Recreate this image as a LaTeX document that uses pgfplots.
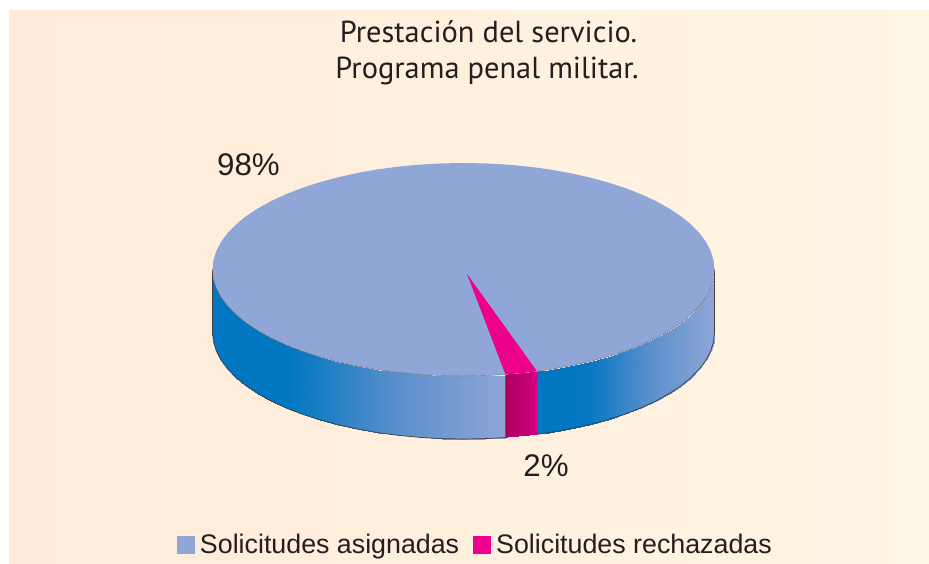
\documentclass[border=0pt]{standalone}
\usepackage{pgfplots}
\usepackage{fontspec}
\pgfplotsset{compat=1.18}
\setmainfont{Liberation Sans}
\newfontfamily\titlefont{PT Sans}
\definecolor{cblue}{RGB}{143,166,214}
\definecolor{cpink}{RGB}{236,0,140}
\definecolor{ink}{RGB}{35,31,32}
\pgfplotsset{
 colormap={bgcm}{rgb255=(255,235,217) rgb255=(255,245,228)},
 colormap={sidecm}{rgb255=(0,119,192) rgb255=(91,143,204) rgb255=(143,166,214)},
 colormap={pinkcm}{rgb255=(168,0,96) rgb255=(214,0,127)},
}
\begin{document}
\begin{tikzpicture}
\begin{axis}[
 scale only axis, width=929pt, height=563pt,
 xmin=0, xmax=929, ymin=0, ymax=563, y dir=reverse,
 hide axis, clip=false,
 point meta min=0, point meta max=1,
 legend cell align=left,
 legend columns=2,
 legend style={draw=none, fill=none, at={(axis description cs:0.1905,0.0320)}, anchor=west,
   font=\fontsize{26.8}{30}\selectfont, text=ink, inner sep=0pt, outer sep=0pt,
   /tikz/every even column/.append style={column sep=11pt},
   nodes={inner xsep=3pt, inner ysep=0pt}},
]
% page
\addplot[fill=white, draw=none, forget plot] coordinates {(0,0)(929,0)(929,563)(0,563)(0,0)};
% background
\addplot[surf, shader=interp, colormap name=bgcm, mesh/rows=2, point meta=explicit, forget plot]
 table[x=x,y=y,meta=t] {
x y t
9 10 0
929 10 1
9 563 0
929 563 1
};
% side, left of the slice
\addplot[surf, shader=interp, colormap name=sidecm, mesh/rows=2, point meta=explicit, forget plot]
 table[x=x,y=y,meta=t] {
x y t
212.5 269.5 0
213.5 278.8 0
216.3 288.0 0
221.0 297.1 0
227.6 305.9 0
236.0 314.5 0
246.1 322.8 0
257.9 330.6 0
271.2 338.0 0
286.0 344.8 0
302.2 351.1 0.06
319.5 356.7 0.14
338.0 361.7 0.22
357.4 366.0 0.31
377.6 369.6 0.41
398.5 372.4 0.50
419.9 374.4 0.60
441.6 375.6 0.71
463.5 376.0 0.81
485.4 375.6 0.91
505.5 374.5 1
212.5 332.5 0
213.5 341.8 0
216.3 351.0 0
221.0 360.1 0
227.6 368.9 0
236.0 377.5 0
246.1 385.8 0
257.9 393.6 0
271.2 401.0 0
286.0 407.8 0
302.2 414.1 0.06
319.5 419.7 0.14
338.0 424.7 0.22
357.4 429.0 0.31
377.6 432.6 0.41
398.5 435.4 0.50
419.9 437.4 0.60
441.6 438.6 0.71
463.5 439.0 0.81
485.4 438.6 0.91
505.5 437.5 1
};
% side, right of the slice
\addplot[surf, shader=interp, colormap name=sidecm, mesh/rows=2, point meta=explicit, forget plot]
 table[x=x,y=y,meta=t] {
x y t
537.0 371.3 0
549.4 369.6 0
569.6 366.0 0
589.0 361.7 0.03
607.5 356.7 0.17
624.8 351.1 0.31
641.0 344.8 0.43
655.8 338.0 0.55
669.1 330.6 0.65
680.9 322.8 0.74
691.0 314.5 0.82
699.4 305.9 0.88
706.0 297.1 0.93
710.7 288.0 0.97
713.5 278.8 0.99
714.5 269.5 1
537.0 434.3 0
549.4 432.6 0
569.6 429.0 0
589.0 424.7 0.03
607.5 419.7 0.17
624.8 414.1 0.31
641.0 407.8 0.43
655.8 401.0 0.55
669.1 393.6 0.65
680.9 385.8 0.74
691.0 377.5 0.82
699.4 368.9 0.88
706.0 360.1 0.93
710.7 351.0 0.97
713.5 341.8 0.99
714.5 332.5 1
};
% side of the slice
\addplot[surf, shader=interp, colormap name=pinkcm, mesh/rows=2, point meta=explicit, forget plot]
 table[x=x,y=y,meta=t] {
x y t
505.5 374.5 0
507.1 374.4 0.05
528.5 372.4 0.73
537.0 371.3 1
505.5 437.5 0
507.1 437.4 0.05
528.5 435.4 0.73
537.0 434.3 1
};
% outlines of the sides
\addplot[color=black!75, line width=0.7pt, forget plot] coordinates {
(212.5,269.5)(212.5,332.5)(213.5,341.8)(216.3,351.0)(221.0,360.1)(227.6,368.9)(236.0,377.5)
(246.1,385.8)(257.9,393.6)(271.2,401.0)(286.0,407.8)(302.2,414.1)(319.5,419.7)(338.0,424.7)
(357.4,429.0)(377.6,432.6)(398.5,435.4)(419.9,437.4)(441.6,438.6)(463.5,439.0)(485.4,438.6)(505.5,437.5)};
\addplot[color=black!75, line width=0.7pt, forget plot] coordinates {
(537.0,434.3)(549.4,432.6)(569.6,429.0)(589.0,424.7)(607.5,419.7)(624.8,414.1)(641.0,407.8)
(655.8,401.0)(669.1,393.6)(680.9,385.8)(691.0,377.5)(699.4,368.9)(706.0,360.1)(710.7,351.0)
(713.5,341.8)(714.5,332.5)(714.5,269.5)};
\addplot[color=black!65, line width=0.7pt, forget plot] coordinates {(505.5,374.5)(505.5,437.5)};
\addplot[color=black!65, line width=0.7pt, forget plot] coordinates {(537,371.3)(537,434.3)};
% top of the pie
\addplot[fill=cblue, draw=none, legend image code/.code={\fill[cblue] (0pt,-9pt) rectangle (18pt,9pt); \path (0pt,0pt) -- (20pt,0pt);}] coordinates {
(714.5,269.5)(713.5,278.8)(710.7,288.0)(706.0,297.1)(699.4,305.9)(691.0,314.5)(680.9,322.8)(669.1,330.6)
(655.8,338.0)(641.0,344.8)(624.8,351.1)(607.5,356.7)(589.0,361.7)(569.6,366.0)(549.4,369.6)(528.5,372.4)
(507.1,374.4)(485.4,375.6)(463.5,376.0)(441.6,375.6)(419.9,374.4)(398.5,372.4)(377.6,369.6)(357.4,366.0)
(338.0,361.7)(319.5,356.7)(302.2,351.1)(286.0,344.8)(271.2,338.0)(257.9,330.6)(246.1,322.8)(236.0,314.5)
(227.6,305.9)(221.0,297.1)(216.3,288.0)(213.5,278.8)(212.5,269.5)(213.5,260.2)(216.3,251.0)(221.0,241.9)
(227.6,233.1)(236.0,224.5)(246.1,216.2)(257.9,208.4)(271.2,201.0)(286.0,194.2)(302.2,187.9)(319.5,182.3)
(338.0,177.3)(357.4,173.0)(377.6,169.4)(398.5,166.6)(419.9,164.6)(441.6,163.4)(463.5,163.0)(485.4,163.4)
(507.1,164.6)(528.5,166.6)(549.4,169.4)(569.6,173.0)(589.0,177.3)(607.5,182.3)(624.8,187.9)(641.0,194.2)
(655.8,201.0)(669.1,208.4)(680.9,216.2)(691.0,224.5)(699.4,233.1)(706.0,241.9)(710.7,251.0)(713.5,260.2)
(714.5,269.5)};
\addlegendentry{Solicitudes asignadas}
% slice
\addplot[fill=cpink, draw=none, legend image code/.code={\fill[cpink] (0pt,-9pt) rectangle (18pt,9pt); \path (0pt,0pt) -- (20pt,0pt);}] coordinates {
(467,274)(537.0,371.3)(528.5,372.4)(507.1,374.4)(505.5,374.5)(467,274)};
\addlegendentry{Solicitudes rechazadas}
% thin rim on the lower part of the top
\addplot[color=black!55, line width=0.4pt, forget plot] coordinates {
(537.0,371.3)(549.4,369.6)(569.6,366.0)(589.0,361.7)(607.5,356.7)(624.8,351.1)(641.0,344.8)(655.8,338.0)
(669.1,330.6)(680.9,322.8)(691.0,314.5)(699.4,305.9)(706.0,297.1)(710.7,288.0)(713.5,278.8)};
\addplot[color=black!55, line width=0.4pt, forget plot] coordinates {
(505.5,374.5)(485.4,375.6)(463.5,376.0)(441.6,375.6)(419.9,374.4)(398.5,372.4)(377.6,369.6)(357.4,366.0)
(338.0,361.7)(319.5,356.7)(302.2,351.1)(286.0,344.8)(271.2,338.0)(257.9,330.6)(246.1,322.8)(236.0,314.5)
(227.6,305.9)(221.0,297.1)(216.3,288.0)};
% texts
\node[font=\titlefont\fontsize{30.4}{38}\selectfont, text=ink] at (axis cs:488.5,32) {Prestación del servicio.};
\node[font=\titlefont\fontsize{30.4}{38}\selectfont, text=ink] at (axis cs:487,71) {Programa penal militar.};
\node[font=\fontsize{31.3}{34}\selectfont, text=ink] at (axis cs:248.5,165) {98\%};
\node[font=\fontsize{31.3}{34}\selectfont, text=ink] at (axis cs:546,466) {2\%};
\end{axis}
\end{tikzpicture}
\end{document}
